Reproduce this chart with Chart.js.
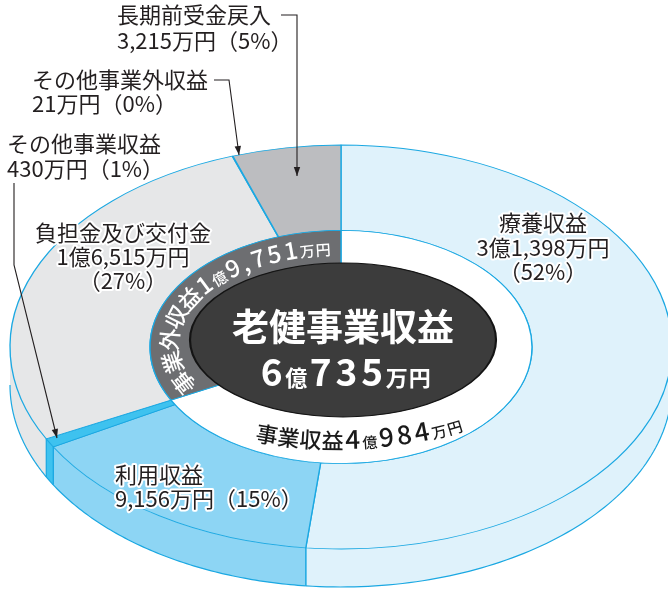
<!DOCTYPE html>
<html><head><meta charset="utf-8">
<script src="https://cdn.jsdelivr.net/npm/chart.js@4/dist/chart.umd.min.js"></script>
<style>html,body{margin:0;padding:0;background:#fff;overflow:hidden}canvas{display:block}</style>
</head><body>
<canvas id="c" width="668" height="589"></canvas>
<script>
// ---------- data (万円) ----------
const categories = ['療養収益','利用収益','その他事業収益','負担金及び交付金','その他事業外収益','長期前受金戻入'];
const values = [31398, 9156, 430, 16515, 21, 3215];
const percents = [52, 15, 1, 27, 0, 5];
const groupLabels = ['事業収益','事業外収益'];
const groupValues = [40984, 19751];
const totalLabel = '老健事業収益';
const totalValues = [60735];

// ---------- styles ----------
const CYAN = '#1ba8e2';
const sliceColors = ['#dff2fb','#8dd5f4','#3ec2ef','#e6e7e8','#d4d5d7','#bcbdc0'];
const groupColors = ['#ffffff','#6d6e71'];
const coreColor = '#3c3c3c';
const FONT = '"Noto Sans CJK JP","Noto Sans CJK SC",sans-serif';
const R = 300;                       // unscaled outer radius
const TOP = {cx:341, cy:347, sx:331/R, sy:202/R};
const CORE = {cx:343, cy:340, sx:153/70, sy:77/70};
const DEPTH = 38;

function fmtMan(v){
  const oku = Math.floor(v/10000), r = v % 10000;
  const rs = r >= 1000 ? Math.floor(r/1000) + ',' + String(r%1000).padStart(3,'0') : String(r);
  return (oku ? oku + '億' : '') + rs + '万円';
}
function manRuns(v, big, small){
  const oku = Math.floor(v/10000), r = v % 10000;
  const rs = r >= 1000 ? Math.floor(r/1000) + ',' + String(r%1000).padStart(3,'0') : String(r);
  const out = [];
  if (oku){ out.push(Object.assign({text:String(oku)}, big)); out.push(Object.assign({text:'億'}, small)); }
  out.push(Object.assign({text:rs}, big));
  out.push(Object.assign({text:'万円'}, small));
  return out;
}

// ---------- pseudo 3D plugin ----------
function drawSide(chart, meta){
  const ctx = chart.ctx;
  const T = TOP;
  ctx.save();
  meta.data.forEach((el) => {
    const p = el.getProps(['startAngle','endAngle','outerRadius'], true);
    const a0 = Math.max(p.startAngle, 0), a1 = Math.min(p.endAngle, Math.PI);
    if (a1 <= a0) return;
    const r = p.outerRadius;
    const X = t => T.cx + T.sx*r*Math.cos(t), Y = t => T.cy + T.sy*r*Math.sin(t);
    const N = 80;
    ctx.beginPath();
    for (let k=0;k<=N;k++){ const t=a0+(a1-a0)*k/N; k?ctx.lineTo(X(t),Y(t)):ctx.moveTo(X(t),Y(t)); }
    for (let k=N;k>=0;k--){ const t=a0+(a1-a0)*k/N; ctx.lineTo(X(t),Y(t)+DEPTH); }
    ctx.closePath();
    ctx.fillStyle = el.options.backgroundColor;
    ctx.fill();
    ctx.strokeStyle = CYAN; ctx.lineWidth = 1.2;
    ctx.beginPath();
    for (let k=0;k<=N;k++){ const t=a0+(a1-a0)*k/N; k?ctx.lineTo(X(t),Y(t)+DEPTH):ctx.moveTo(X(t),Y(t)+DEPTH); }
    ctx.stroke();
    [[a0,p.startAngle],[a1,p.endAngle]].forEach(([a,orig])=>{
      if (a === orig && a > 0 && a < Math.PI){
        ctx.beginPath(); ctx.moveTo(X(a),Y(a)); ctx.lineTo(X(a),Y(a)+DEPTH); ctx.stroke();
      }
    });
  });
  ctx.restore();
}
const pseudo3d = {
  id:'pseudo3d',
  beforeDatasetDraw(chart, args){
    const ctx = chart.ctx, i = args.index, meta = args.meta;
    if (i === 0) drawSide(chart, meta);
    const T = i === 2 ? CORE : TOP;
    const el = meta.data[0];
    ctx.save();
    ctx.translate(T.cx, T.cy); ctx.scale(T.sx, T.sy); ctx.translate(-el.x, -el.y);
  },
  afterDatasetDraw(chart, args){
    const ctx = chart.ctx;
    if (args.index === 2){
      const el = args.meta.data[0];
      ctx.beginPath(); ctx.arc(el.x, el.y, el.outerRadius, 0, Math.PI*2);
      ctx.strokeStyle = '#141414'; ctx.lineWidth = 1; ctx.stroke();
    }
    ctx.restore();
  }
};

// ---------- text helpers ----------
function drawCurved(ctx, runs, E, tStartDeg, dir, color, baseShift){
  let t = tStartDeg*Math.PI/180;
  const speed = tt => Math.hypot(E.a*Math.sin(tt), E.b*Math.cos(tt));
  const adv = (tt, len) => { let s=0; const dt=0.0005*dir; while (s < len){ s += speed(tt)*Math.abs(dt); tt += dt; } return tt; };
  ctx.fillStyle = color; ctx.textAlign = 'center'; ctx.textBaseline = 'alphabetic';
  for (const run of runs){
    ctx.font = run.font;
    for (const ch of run.text){
      const w = ctx.measureText(ch).width + (run.extra||0);
      const tc = adv(t, w/2);
      const px = E.cx + E.a*Math.cos(tc), py = E.cy + E.b*Math.sin(tc);
      const vx = -E.a*Math.sin(tc)*dir, vy = E.b*Math.cos(tc)*dir;
      ctx.save(); ctx.translate(px, py); ctx.rotate(Math.atan2(vy, vx));
      ctx.fillText(ch, 0, baseShift); ctx.restore();
      t = adv(tc, w/2);
    }
  }
}
function drawRunsCentered(ctx, runs, cx, baseline, color){
  let total = 0;
  const items = [];
  for (const run of runs){ ctx.font = run.font; for (const ch of run.text){ const w = ctx.measureText(ch).width + (run.extra||0); items.push({ch, w, font:run.font}); total += w; } }
  let x = cx - total/2;
  ctx.fillStyle = color; ctx.textAlign = 'center'; ctx.textBaseline = 'alphabetic';
  for (const it of items){ ctx.font = it.font; ctx.fillText(it.ch, x + it.w/2, baseline); x += it.w; }
}
function arrowLine(ctx, pts){
  ctx.beginPath(); ctx.moveTo(pts[0][0], pts[0][1]);
  for (let k=1;k<pts.length;k++) ctx.lineTo(pts[k][0], pts[k][1]);
  ctx.stroke();
  const [x1,y1] = pts[pts.length-2], [x2,y2] = pts[pts.length-1];
  const ang = Math.atan2(y2-y1, x2-x1), L = 9, Wd = 3.2;
  ctx.beginPath();
  ctx.moveTo(x2, y2);
  ctx.lineTo(x2 - L*Math.cos(ang) + Wd*Math.sin(ang), y2 - L*Math.sin(ang) - Wd*Math.cos(ang));
  ctx.lineTo(x2 - L*Math.cos(ang) - Wd*Math.sin(ang), y2 - L*Math.sin(ang) + Wd*Math.cos(ang));
  ctx.closePath(); ctx.fill();
}

const LABEL_POS = [
  {x:543, y:223, align:'center', split:3, lh:24.5, halo:true},
  {x:115, y:475, align:'left', split:2, lh:23.5, halo:true},
  {x:7,   y:144, align:'left', split:2, lh:24.5},
  {x:123, y:233, align:'center', split:3, lh:24, halo:true},
  {x:32,  y:80,  align:'left', split:2, lh:24},
  {x:117, y:15,  align:'left', split:2, lh:26},
];
const LEADERS = {
  5: [[281,15],[297,15],[297,176]],
  4: [[214,80],[229,80],[239,155]],
  2: [[14,183],[14,265],[57,438]]
};

const labelPlugin = {
  id:'labels',
  afterDraw(chart){
    const ctx = chart.ctx;
    ctx.save();
    // leader lines
    ctx.strokeStyle = '#231f20'; ctx.fillStyle = '#231f20'; ctx.lineWidth = 1.1;
    Object.keys(LEADERS).forEach(k => arrowLine(ctx, LEADERS[k]));
    // category labels
    ctx.font = '22px ' + FONT; ctx.textBaseline = 'middle';
    categories.forEach((name, i) => {
      const P = LABEL_POS[i];
      const amt = fmtMan(values[i]), pct = '（' + percents[i] + '%）';
      const lines = P.split === 3 ? [name, amt, pct] : [name, amt + pct];
      ctx.textAlign = P.align;
      lines.forEach((ln, j) => {
        const y = P.y + j*P.lh;
        if (P.halo){ ctx.strokeStyle = '#fff'; ctx.lineWidth = 4; ctx.lineJoin = 'round'; ctx.strokeText(ln, P.x, y); }
        ctx.fillStyle = '#231f20'; ctx.fillText(ln, P.x, y);
      });
    });
    // curved ring texts
    drawCurved(ctx,
      [{text:groupLabels[1], font:'500 22.5px '+FONT, extra:0.5}].concat(
        manRuns(groupValues[1], {font:'500 24px '+FONT, extra:3}, {font:'500 15px '+FONT, extra:1})),
      {cx:342, cy:344, a:172, b:97}, 151, 1, '#ffffff', 8);
    drawCurved(ctx,
      [{text:groupLabels[0], font:'500 22px '+FONT, extra:0}].concat(
        manRuns(groupValues[0], {font:'500 26px '+FONT, extra:3}, {font:'500 15px '+FONT, extra:1})),
      {cx:340, cy:344, a:210, b:97}, 113.6, -1, '#1a1a1a', 8);
    // center total
    ctx.fillStyle = '#ffffff'; ctx.textAlign = 'center'; ctx.textBaseline = 'middle';
    ctx.font = 'bold 37px ' + FONT;
    ctx.fillText(totalLabel, 343, 327);
    drawRunsCentered(ctx, manRuns(totalValues[0], {font:'bold 37px '+FONT, extra:4}, {font:'bold 22px '+FONT, extra:1}), 345, 386, '#ffffff');
    ctx.restore();
  }
};

function build(){
  new Chart(document.getElementById('c'), {
    type:'doughnut',
    data:{
      labels: categories,
      datasets:[
        {label:'内訳', data: values, backgroundColor: sliceColors, borderColor: CYAN, borderWidth: 1.2, weight: 126.9, order: 2, clip: false},
        {label:'区分', data: groupValues, backgroundColor: groupColors, borderColor: CYAN, borderWidth: 1.2, weight: 103.1, order: 1, clip: false},
        {label:'合計', data: totalValues, backgroundColor: [coreColor], borderWidth: 0, weight: 70, order: 0, clip: false}
      ]
    },
    options:{
      responsive:false, animation:false, radius:R, cutout:0, events:[],
      layout:{padding:0},
      plugins:{legend:{display:false}, tooltip:{enabled:false}}
    },
    plugins:[pseudo3d, labelPlugin]
  });
}
const fl = document.fonts && document.fonts.load ? Promise.all([
  document.fonts.load('22px "Noto Sans CJK JP"'),
  document.fonts.load('bold 22px "Noto Sans CJK JP"')
]).catch(()=>{}) : Promise.resolve();
fl.then(build, build);
</script>
</body></html>
